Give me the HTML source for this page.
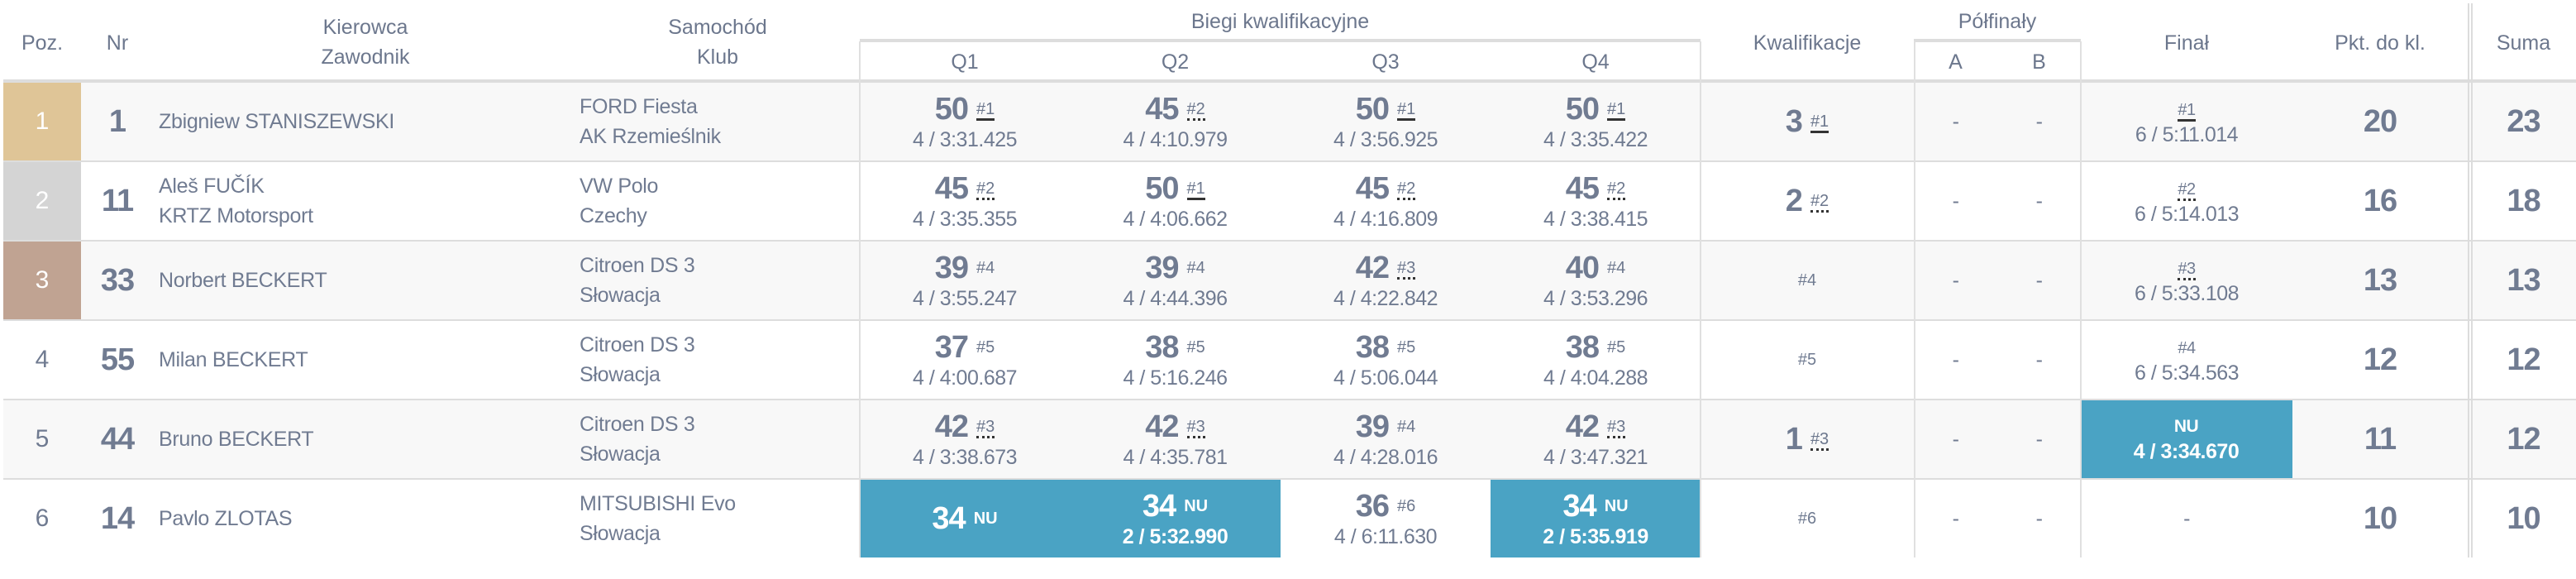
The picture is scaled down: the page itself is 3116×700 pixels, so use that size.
<!DOCTYPE html>
<html><head><meta charset="utf-8"><style>
*{margin:0;padding:0;box-sizing:border-box}
body{width:3116px;height:700px;background:#fff;font-family:"Liberation Sans",sans-serif;color:#707b91;position:relative;overflow:hidden}
.a{position:absolute}
.h{position:absolute;font-size:25px;text-align:center;line-height:36px;color:#6c778d}
.row{position:absolute;left:4px;width:3112px;height:94px}
.c{position:absolute;top:0;height:94px;display:flex;flex-direction:column;align-items:center;justify-content:center}
.big{font-size:38px;font-weight:bold;line-height:44px;letter-spacing:-1px}
.t{font-size:25px;line-height:30px;letter-spacing:-0.5px}
.tag{font-size:20px;font-weight:normal;margin-left:10px;vertical-align:6px;letter-spacing:0;color:#6c778d}
.s{border-bottom:3px solid #333}
.d{border-bottom:3px dotted #333}
.blue{background:#4aa3c4;color:#fff}
.blue .tag{color:#fff;font-weight:bold}
.blue .t{font-weight:bold}
.nm{position:absolute;top:0;height:94px;display:flex;flex-direction:column;justify-content:center;font-size:25px;line-height:36px;letter-spacing:-0.3px}
.p{font-size:30px}
.vl{position:absolute;width:2px;background:#e0e0e0}
.hl{position:absolute;height:2px;background:#dddddd}
</style></head><body>
<div class="h" style="left:4px;width:94px;top:34px">Poz.</div>
<div class="h" style="left:110px;width:64px;top:34px">Nr</div>
<div class="h" style="left:300px;width:284px;top:15px">Kierowca<br>Zawodnik</div>
<div class="h" style="left:730px;width:276px;top:15px">Samochód<br>Klub</div>
<div class="h" style="left:1040px;width:1017px;top:8px">Biegi kwalifikacyjne</div>
<div class="h" style="left:1040px;width:254px;top:57px">Q1</div>
<div class="h" style="left:1294px;width:255px;top:57px">Q2</div>
<div class="h" style="left:1549px;width:254px;top:57px">Q3</div>
<div class="h" style="left:1803px;width:254px;top:57px">Q4</div>
<div class="h" style="left:2057px;width:258px;top:34px">Kwalifikacje</div>
<div class="h" style="left:2315px;width:202px;top:8px">Półfinały</div>
<div class="h" style="left:2315px;width:101px;top:57px">A</div>
<div class="h" style="left:2416px;width:101px;top:57px">B</div>
<div class="h" style="left:2517px;width:256px;top:34px">Finał</div>
<div class="h" style="left:2773px;width:212px;top:34px">Pkt. do kl.</div>
<div class="h" style="left:2989px;width:127px;top:34px">Suma</div>
<div class="a" style="left:1040px;top:47px;width:1017px;height:4px;background:#dddddd"></div>
<div class="a" style="left:2315px;top:47px;width:202px;height:4px;background:#dddddd"></div>
<div class="a" style="left:4px;top:96px;width:3112px;height:4px;background:#dddddd"></div>

<div class="row" style="top:100px;background:#f8f8f8">
<div class="c p" style="left:0;width:94px;background:#dfc597;color:#fff">1</div>
<div class="c big" style="left:106px;width:64px">1</div>
<div class="nm" style="left:188px">Zbigniew STANISZEWSKI</div>
<div class="nm" style="left:697px">FORD Fiesta<br>AK Rzemieślnik</div>
<div class="c" style="left:1036px;width:254px"><div class="big">50<span class="tag s">#1</span></div><div class="t">4 / 3:31.425</div></div>
<div class="c" style="left:1290px;width:255px"><div class="big">45<span class="tag d">#2</span></div><div class="t">4 / 4:10.979</div></div>
<div class="c" style="left:1545px;width:254px"><div class="big">50<span class="tag s">#1</span></div><div class="t">4 / 3:56.925</div></div>
<div class="c" style="left:1799px;width:254px"><div class="big">50<span class="tag s">#1</span></div><div class="t">4 / 3:35.422</div></div>
<div class="c" style="left:2053px;width:258px"><div class="big">3<span class="tag s">#1</span></div></div>
<div class="c t" style="left:2311px;width:101px">-</div>
<div class="c t" style="left:2412px;width:101px">-</div>
<div class="c" style="left:2513px;width:256px"><div class="t"><span class="s" style="font-size:20px">#1</span></div><div class="t">6 / 5:11.014</div></div>
<div class="c big" style="left:2769px;width:212px">20</div>
<div class="c big" style="left:2985px;width:127px">23</div>
</div>
<div class="hl" style="left:4px;top:194px;width:3112px"></div>

<div class="row" style="top:196px;background:#fff">
<div class="c p" style="left:0;width:94px;background:#d4d4d4;color:#fff">2</div>
<div class="c big" style="left:106px;width:64px">11</div>
<div class="nm" style="left:188px">Aleš FUČÍK<br>KRTZ Motorsport</div>
<div class="nm" style="left:697px">VW Polo<br>Czechy</div>
<div class="c" style="left:1036px;width:254px"><div class="big">45<span class="tag d">#2</span></div><div class="t">4 / 3:35.355</div></div>
<div class="c" style="left:1290px;width:255px"><div class="big">50<span class="tag s">#1</span></div><div class="t">4 / 4:06.662</div></div>
<div class="c" style="left:1545px;width:254px"><div class="big">45<span class="tag d">#2</span></div><div class="t">4 / 4:16.809</div></div>
<div class="c" style="left:1799px;width:254px"><div class="big">45<span class="tag d">#2</span></div><div class="t">4 / 3:38.415</div></div>
<div class="c" style="left:2053px;width:258px"><div class="big">2<span class="tag d">#2</span></div></div>
<div class="c t" style="left:2311px;width:101px">-</div>
<div class="c t" style="left:2412px;width:101px">-</div>
<div class="c" style="left:2513px;width:256px"><div class="t"><span class="d" style="font-size:20px">#2</span></div><div class="t">6 / 5:14.013</div></div>
<div class="c big" style="left:2769px;width:212px">16</div>
<div class="c big" style="left:2985px;width:127px">18</div>
</div>
<div class="hl" style="left:4px;top:290px;width:3112px"></div>

<div class="row" style="top:292px;background:#f8f8f8">
<div class="c p" style="left:0;width:94px;background:#c0a392;color:#fff">3</div>
<div class="c big" style="left:106px;width:64px">33</div>
<div class="nm" style="left:188px">Norbert BECKERT</div>
<div class="nm" style="left:697px">Citroen DS 3<br>Słowacja</div>
<div class="c" style="left:1036px;width:254px"><div class="big">39<span class="tag">#4</span></div><div class="t">4 / 3:55.247</div></div>
<div class="c" style="left:1290px;width:255px"><div class="big">39<span class="tag">#4</span></div><div class="t">4 / 4:44.396</div></div>
<div class="c" style="left:1545px;width:254px"><div class="big">42<span class="tag d">#3</span></div><div class="t">4 / 4:22.842</div></div>
<div class="c" style="left:1799px;width:254px"><div class="big">40<span class="tag">#4</span></div><div class="t">4 / 3:53.296</div></div>
<div class="c" style="left:2053px;width:258px;font-size:20px">#4</div>
<div class="c t" style="left:2311px;width:101px">-</div>
<div class="c t" style="left:2412px;width:101px">-</div>
<div class="c" style="left:2513px;width:256px"><div class="t"><span class="d" style="font-size:20px">#3</span></div><div class="t">6 / 5:33.108</div></div>
<div class="c big" style="left:2769px;width:212px">13</div>
<div class="c big" style="left:2985px;width:127px">13</div>
</div>
<div class="hl" style="left:4px;top:386px;width:3112px"></div>

<div class="row" style="top:388px;background:#fff">
<div class="c p" style="left:0;width:94px">4</div>
<div class="c big" style="left:106px;width:64px">55</div>
<div class="nm" style="left:188px">Milan BECKERT</div>
<div class="nm" style="left:697px">Citroen DS 3<br>Słowacja</div>
<div class="c" style="left:1036px;width:254px"><div class="big">37<span class="tag">#5</span></div><div class="t">4 / 4:00.687</div></div>
<div class="c" style="left:1290px;width:255px"><div class="big">38<span class="tag">#5</span></div><div class="t">4 / 5:16.246</div></div>
<div class="c" style="left:1545px;width:254px"><div class="big">38<span class="tag">#5</span></div><div class="t">4 / 5:06.044</div></div>
<div class="c" style="left:1799px;width:254px"><div class="big">38<span class="tag">#5</span></div><div class="t">4 / 4:04.288</div></div>
<div class="c" style="left:2053px;width:258px;font-size:20px">#5</div>
<div class="c t" style="left:2311px;width:101px">-</div>
<div class="c t" style="left:2412px;width:101px">-</div>
<div class="c" style="left:2513px;width:256px"><div class="t"><span style="font-size:20px">#4</span></div><div class="t">6 / 5:34.563</div></div>
<div class="c big" style="left:2769px;width:212px">12</div>
<div class="c big" style="left:2985px;width:127px">12</div>
</div>
<div class="hl" style="left:4px;top:482px;width:3112px"></div>

<div class="row" style="top:484px;background:#f8f8f8">
<div class="c p" style="left:0;width:94px">5</div>
<div class="c big" style="left:106px;width:64px">44</div>
<div class="nm" style="left:188px">Bruno BECKERT</div>
<div class="nm" style="left:697px">Citroen DS 3<br>Słowacja</div>
<div class="c" style="left:1036px;width:254px"><div class="big">42<span class="tag d">#3</span></div><div class="t">4 / 3:38.673</div></div>
<div class="c" style="left:1290px;width:255px"><div class="big">42<span class="tag d">#3</span></div><div class="t">4 / 4:35.781</div></div>
<div class="c" style="left:1545px;width:254px"><div class="big">39<span class="tag">#4</span></div><div class="t">4 / 4:28.016</div></div>
<div class="c" style="left:1799px;width:254px"><div class="big">42<span class="tag d">#3</span></div><div class="t">4 / 3:47.321</div></div>
<div class="c" style="left:2053px;width:258px"><div class="big">1<span class="tag d">#3</span></div></div>
<div class="c t" style="left:2311px;width:101px">-</div>
<div class="c t" style="left:2412px;width:101px">-</div>
<div class="c blue" style="left:2512px;width:257px"><div class="t" style="font-size:21px;font-weight:bold">NU</div><div class="t" style="font-weight:bold">4 / 3:34.670</div></div>
<div class="c big" style="left:2769px;width:212px">11</div>
<div class="c big" style="left:2985px;width:127px">12</div>
</div>
<div class="hl" style="left:4px;top:578px;width:3112px"></div>

<div class="row" style="top:580px;background:#fff">
<div class="c p" style="left:0;width:94px">6</div>
<div class="c big" style="left:106px;width:64px">14</div>
<div class="nm" style="left:188px">Pavlo ZLOTAS</div>
<div class="nm" style="left:697px">MITSUBISHI Evo<br>Słowacja</div>
<div class="c blue" style="left:1036px;width:254px"><div class="big">34<span class="tag">NU</span></div></div>
<div class="c blue" style="left:1290px;width:255px"><div class="big">34<span class="tag">NU</span></div><div class="t">2 / 5:32.990</div></div>
<div class="c" style="left:1545px;width:254px"><div class="big">36<span class="tag">#6</span></div><div class="t">4 / 6:11.630</div></div>
<div class="c blue" style="left:1799px;width:254px"><div class="big">34<span class="tag">NU</span></div><div class="t">2 / 5:35.919</div></div>
<div class="c" style="left:2053px;width:258px;font-size:20px">#6</div>
<div class="c t" style="left:2311px;width:101px">-</div>
<div class="c t" style="left:2412px;width:101px">-</div>
<div class="c t" style="left:2513px;width:256px">-</div>
<div class="c big" style="left:2769px;width:212px">10</div>
<div class="c big" style="left:2985px;width:127px">10</div>
</div>

<div class="vl" style="left:1039px;top:50px;height:624px"></div>
<div class="vl" style="left:2056px;top:50px;height:624px"></div>
<div class="vl" style="left:2315px;top:50px;height:624px"></div>
<div class="vl" style="left:2516px;top:50px;height:624px"></div>
<div class="vl" style="left:2985px;top:4px;height:670px;background:#dcdcdc"></div>
<div class="vl" style="left:2989px;top:4px;height:670px;background:#dcdcdc"></div>
</body></html>
